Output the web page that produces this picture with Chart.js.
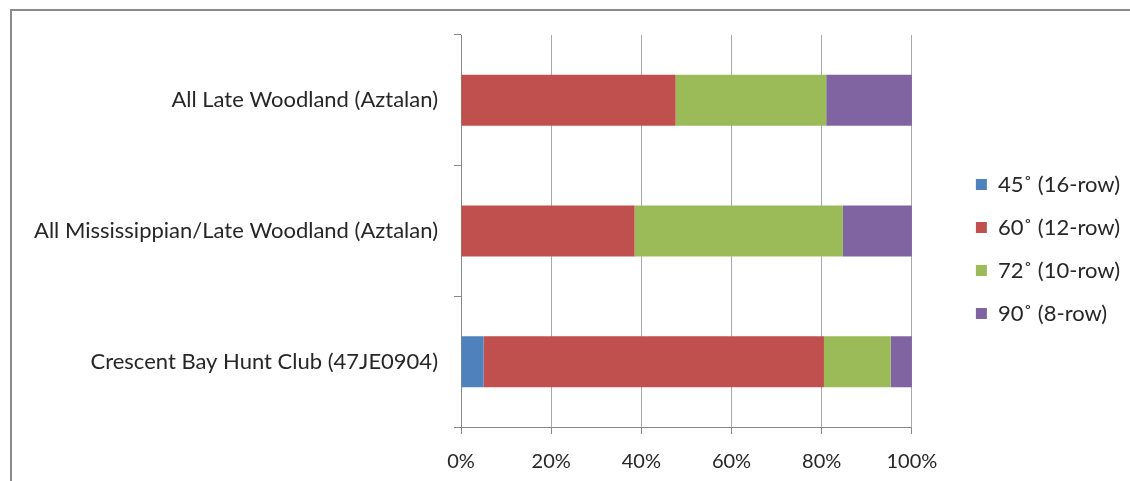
<!DOCTYPE html>
<html>
<head>
<meta charset="utf-8">
<script src="https://cdn.jsdelivr.net/npm/chart.js@4"></script>
<style>
  html, body { margin: 0; padding: 0; background: #fff; }
  #wrap { position: relative; width: 1130px; height: 481px; overflow: hidden; }
  #frame { position: absolute; left: 10px; top: 9px; width: 1200px; height: 600px;
           border-left: 2px solid #8a8a8a; border-top: 2px solid #8a8a8a; }
  canvas { position: absolute; left: 0; top: 0; }
</style>
</head>
<body>
<div id="wrap">
  <div id="frame"></div>
  <canvas id="cobChart" width="1130" height="481"></canvas>
</div>
<script>
// Sites (top to bottom)
const sites = ['All Late Woodland (Aztalan)', 'All Mississippian/Late Woodland (Aztalan)', 'Crescent Bay Hunt Club (47JE0904)'];

// Percent of cobs per row class, per site
const angle45 = [0, 0, 5.0];
const angle60 = [47.6, 38.5, 75.5];
const angle72 = [33.4, 46.2, 14.8];
const angle90 = [19.0, 15.3, 4.7];

const seriesNames = ['45˚ (16-row)', '60˚ (12-row)', '72˚ (10-row)', '90˚ (8-row)'];
const seriesColors = ['#4f81bd', '#c0504d', '#9bbb59', '#8064a2'];
const xTicks = [0, 20, 40, 60, 80, 100];

const labelFont = { family: 'Lato, "Liberation Sans", sans-serif', size: 22 };
const tickFont = { family: 'Lato, "Liberation Sans", sans-serif', size: 20 };
const textColor = '#262626';
const gridColor = '#a8a8a8';
const axisColor = '#888888';

// empty scale used only to reserve space
function spacer(position, size) {
  return {
    type: 'linear',
    position: position,
    display: true,
    grid: { display: false },
    border: { display: false },
    ticks: { display: false },
    afterFit: (scale) => {
      if (scale.isHorizontal()) scale.height = size; else scale.width = size;
    }
  };
}

document.addEventListener('DOMContentLoaded', () => {
  const ctx = document.getElementById('cobChart');
  const values = [angle45, angle60, angle72, angle90];

  new Chart(ctx, {
    type: 'bar',
    data: {
      labels: sites,
      datasets: seriesNames.map((name, i) => ({
        label: name,
        data: values[i],
        backgroundColor: seriesColors[i],
        borderWidth: 0,
        categoryPercentage: 1,
        barPercentage: 0.39
      }))
    },
    options: {
      indexAxis: 'y',
      responsive: false,
      animation: false,
      devicePixelRatio: 1,
      layout: { padding: { top: 17, right: 0, bottom: 0, left: 0 } },
      plugins: {
        tooltip: { enabled: false },
        legend: {
          position: 'right',
          labels: {
            font: labelFont,
            color: textColor,
            boxWidth: 11,
            boxHeight: 11,
            padding: 21
          }
        }
      },
      scales: {
        x: {
          stacked: true,
          min: 0,
          max: 100,
          afterBuildTicks: (scale) => { scale.ticks = xTicks.map(v => ({ value: v })); },
          afterFit: (scale) => { scale.height = 54; },
          ticks: {
            font: tickFont,
            color: textColor,
            padding: 16,
            callback: (v) => v + '%'
          },
          grid: { color: gridColor, tickLength: 7, tickColor: axisColor },
          border: { color: axisColor }
        },
        y: {
          stacked: true,
          afterFit: (scale) => { scale.width = 461; },
          ticks: { font: labelFont, color: textColor, padding: 16 },
          grid: { offset: true, drawOnChartArea: false, tickLength: 7, color: axisColor },
          border: { color: axisColor }
        },
        topGap: spacer('top', 18),
        rightGap: spacer('right', 43)
      }
    }
  });
});
</script>
</body>
</html>
